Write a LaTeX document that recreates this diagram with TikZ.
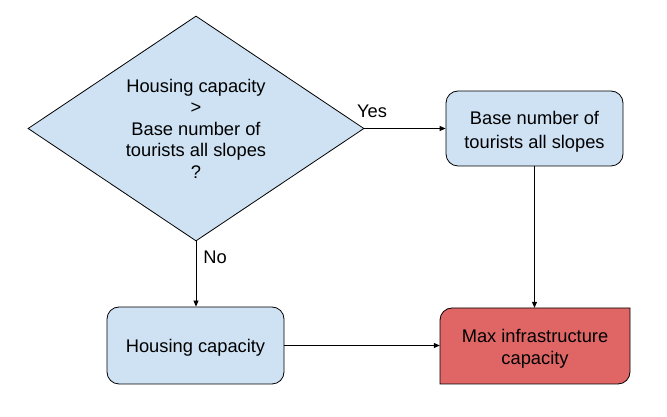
\documentclass[tikz,border=0pt]{standalone}
\usepackage{fontspec}
\setmainfont{Liberation Sans}
\usetikzlibrary{shapes.geometric,arrows.meta}
\definecolor{lblue}{HTML}{CFE2F3}
\definecolor{lred}{HTML}{E06666}
\newcommand{\dtext}[1]{\raisebox{-3pt}[\height][\depth]{\begin{tabular}{@{}c@{}}#1\end{tabular}}}
\begin{document}
\begin{tikzpicture}[x=1pt,y=1pt,
  every node/.style={font=\fontsize{18.3}{21.5}\selectfont, align=center},
  box/.style={draw=black, line width=0.8pt, fill=lblue, rounded corners=12pt, inner sep=0pt},
  conn/.style={line width=0.8pt, -{Triangle[length=6pt,width=5pt]}},
  lbl/.style={inner sep=0pt}]
\useasboundingbox[fill=white] (0,0) rectangle (667,417);
\node[diamond, draw=black, line width=0.8pt, fill=lblue, aspect=1.493,
  minimum width=336pt, minimum height=225pt, inner sep=0pt] (d) at (196,288.5)
  {Housing capacity\\>\\Base number of\\tourists all slopes\\?};
\node[box, minimum width=177pt, minimum height=75pt, font=\fontsize{18.3}{24}\selectfont] (b) at (534.5,288.5)
  {\dtext{Base number of\\tourists all slopes}};
\node[box, minimum width=177pt, minimum height=77pt] (h) at (195.5,71.5) {\dtext{Housing capacity}};
\node[inner sep=0pt, minimum width=190pt, minimum height=76pt] (r) at (535,71) {};
\fill[lred] (440,33) -- (440,97) arc[start angle=180, end angle=90, radius=12pt]
  -- (630,109) -- (630,45) arc[start angle=0, end angle=-90, radius=12pt] -- cycle;
\draw[line width=0.8pt] (440,33) -- (440,97) arc[start angle=180, end angle=90, radius=12pt]
  -- (630,109) -- (630,45) arc[start angle=0, end angle=-90, radius=12pt] -- cycle;
\node[font=\fontsize{18.3}{22}\selectfont] (rt) at (r.center) {\dtext{Max infrastructure\\capacity}};
\draw[conn] (d.east) -- (d.east -| b.west);
\draw[conn] (d.south) -- (d.south |- h.north);
\draw[conn] (b.south) -- (b.south |- r.north);
\draw[conn] (h.east) -- (h.east -| r.west);
\node[lbl] (yes) at (372,306) {Yes};
\node[lbl] (no) at (215,160) {No};
\end{tikzpicture}
\end{document}
